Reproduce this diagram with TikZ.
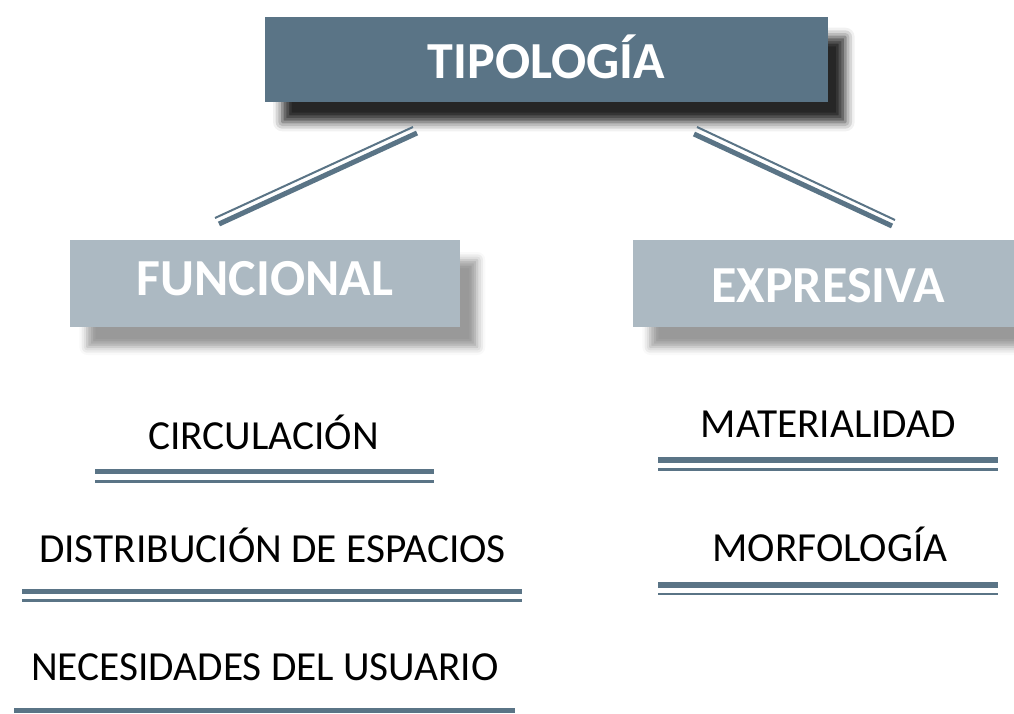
\documentclass[tikz,border=0pt]{standalone}
\usepackage{fontspec}
\setmainfont{Carlito}
\usetikzlibrary{shadows.blur}
\definecolor{slate}{HTML}{5A7486}
\definecolor{mist}{HTML}{ACB9C2}

\begin{document}
\begin{tikzpicture}[x=0.75pt,y=-0.75pt,
  head/.style={fill=slate, text=white, inner sep=0pt,
    font=\fontsize{39}{39}\selectfont\bfseries,
    minimum width=422.25pt, minimum height=63.75pt,
    blur shadow={shadow xshift=13pt, shadow yshift=-15pt, shadow blur radius=7pt, shadow opacity=85}},
  branch/.style={fill=mist, text=white, inner sep=0pt,
    font=\fontsize{39}{39}\selectfont\bfseries,
    minimum width=292.5pt, minimum height=65.25pt,
    blur shadow={shadow xshift=13pt, shadow yshift=-15pt, shadow blur radius=6pt, shadow opacity=40}},
  item/.style={anchor=base, inner sep=0pt, font=\fontsize{31}{31}\selectfont},
  thickrule/.style={slate, line width=4.2pt},
  thinrule/.style={slate, line width=1.9pt}]
  \useasboundingbox (0,0) rectangle (1014,714);

  \node[head, text height=27.75pt, text depth=0pt] (tipo) at (546.5,59.5) {TIPOLOGÍA};
  \node[branch, text height=17.25pt, text depth=0pt] (func) at (265,283.5) {FUNCIONAL};
  \node[branch, text height=27.75pt, text depth=0pt] (expr) at (828,283.5) {EXPRESIVA};

  % links from the title
  \coordinate (lu1) at (413,127); \coordinate (ld1) at (215,218);
  \coordinate (lu2) at (417,133); \coordinate (ld2) at (219,224);
  \coordinate (ru1) at (697,127); \coordinate (rd1) at (895,220);
  \coordinate (ru2) at (694,134); \coordinate (rd2) at (892,226);
  \draw[thinrule, line width=1.5pt] (lu1) -- (ld1);
  \draw[thickrule, line width=3.8pt] (lu2) -- (ld2);
  \draw[thinrule, line width=1.5pt] (ru1) -- (rd1);
  \draw[thickrule, line width=3.8pt] (ru2) -- (rd2);

  % funcional
  \node[item] (circ) at (263.5,449) {CIRCULACIÓN};
  \draw[thickrule] (95,471.5) -- (434,471.5);
  \draw[thinrule] (95,481.5) -- (434,481.5);
  \node[item] (dist) at (272.5,562) {DISTRIBUCIÓN DE ESPACIOS};
  \draw[thickrule] (22,591.5) -- (522,591.5);
  \draw[thinrule] (22,600.5) -- (522,600.5);
  \node[item] (nec) at (265,680) {NECESIDADES DEL USUARIO};
  \draw[thickrule] (14,710.5) -- (515,710.5);

  % expresiva
  \node[item] (mat) at (828.5,437) {MATERIALIDAD};
  \draw[thickrule] (658,460) -- (998,460);
  \draw[thinrule] (658,469.5) -- (998,469.5);
  \node[item] (morf) at (830,561) {MORFOLOGÍA};
  \draw[thickrule] (658,585) -- (998,585);
  \draw[thinrule] (658,594) -- (998,594);
\end{tikzpicture}
\end{document}
